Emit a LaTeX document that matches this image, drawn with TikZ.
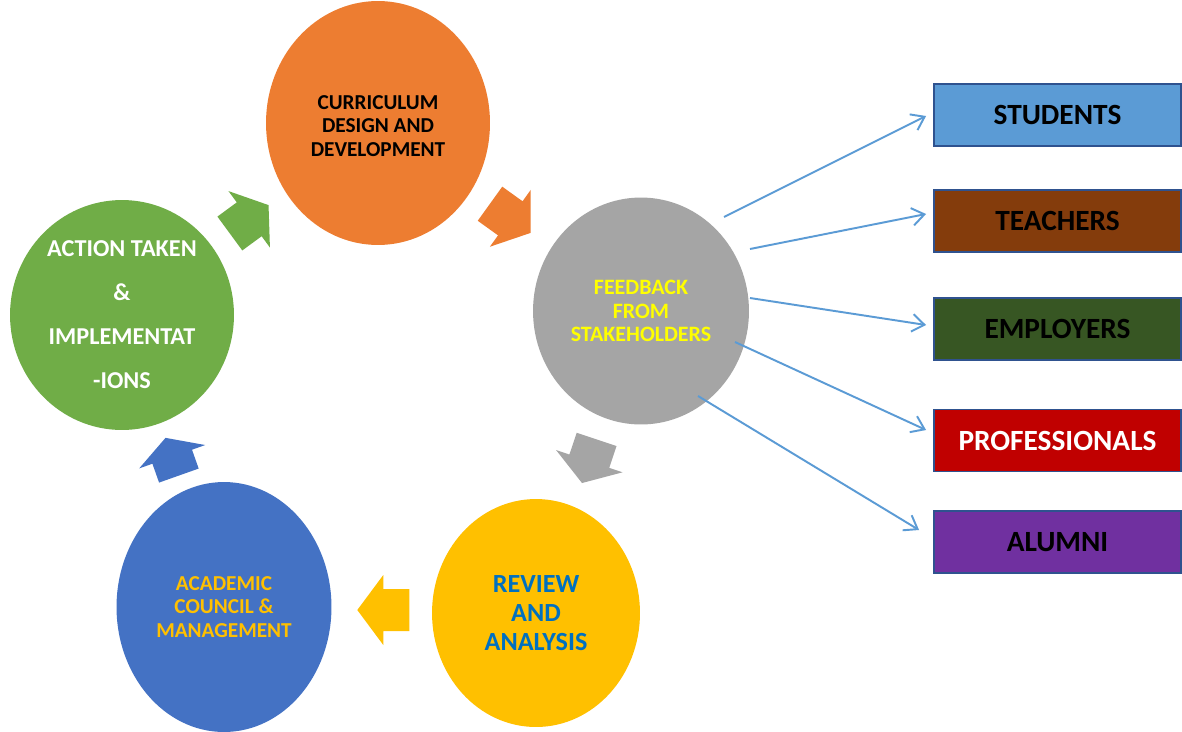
\documentclass[tikz,border=0pt]{standalone}
\usepackage{fontspec}
\setmainfont{Carlito}
\usetikzlibrary{shapes.geometric,arrows.meta}
\definecolor{corange}{HTML}{ED7D31}
\definecolor{cgray}{HTML}{A5A5A5}
\definecolor{cyellow}{HTML}{FFC000}
\definecolor{cblue}{HTML}{4472C4}
\definecolor{cgreen}{HTML}{70AD47}
\definecolor{cline}{HTML}{5B9BD5}
\definecolor{cborder}{HTML}{2F528F}
\definecolor{cstud}{HTML}{5B9BD5}
\definecolor{cteach}{HTML}{843C0C}
\definecolor{cemp}{HTML}{375623}
\definecolor{cprof}{HTML}{C00000}
\definecolor{calum}{HTML}{7030A0}
\definecolor{ctextblue}{HTML}{0070C0}
\definecolor{ctextyellow}{HTML}{FFFF00}
\begin{document}
\begin{tikzpicture}[x=0.02cm,y=0.02cm,
  circ/.style={ellipse, inner sep=0pt, align=center},
  smalltext/.style={font=\fontsize{12.1}{13.4}\selectfont\bfseries},
  stakebox/.style={draw=cborder, line width=1.1pt, minimum width=4.94cm, minimum height=1.24cm,
     inner sep=0pt, font=\fontsize{16.7}{19}\selectfont\bfseries},
  feed/.style={draw=cline, line width=1.1pt, -{Straight Barb[length=7pt,width=10pt]}},
  pics/blockarrow/.style={code={\fill[pic actions] (-#1,-21) -- (0,-21) -- (0,-35) -- (#1,0) -- (0,35) -- (0,21) -- (-#1,21) -- cycle;}}
]
\clip (0,0) rectangle (1182,-731);
\fill[white] (0,0) rectangle (1182,-731);

% cycle circles
\node[circ, fill=corange, minimum width=4.48cm, minimum height=4.88cm] (design) at (378,-123) {};
\node[smalltext, align=center, inner sep=0pt, text=black] (designtext) at (378,-126)
  {CURRICULUM\\DESIGN AND\\DEVELOPMENT};
\node[circ, fill=cgray, minimum width=4.32cm, minimum height=4.54cm,
  font=\fontsize{12.5}{13.4}\selectfont\bfseries, text=ctextyellow]
  (feedback) at (641,-311) {FEEDBACK\\FROM\\STAKEHOLDERS};
\node[circ, fill=cyellow, minimum width=4.16cm, minimum height=4.56cm,
  font=\fontsize{14.9}{16.4}\selectfont\bfseries, text=ctextblue]
  (review) at (536,-613) {REVIEW\\AND\\ANALYSIS};
\node[circ, fill=cblue, minimum width=4.30cm, minimum height=5.00cm, smalltext, text=cyellow]
  (council) at (224,-607) {ACADEMIC\\COUNCIL \&\\MANAGEMENT};
\node[circ, fill=cgreen, minimum width=4.48cm, minimum height=4.60cm,
  font=\fontsize{13.8}{25}\selectfont\bfseries, text=white]
  (action) at (122,-315) {ACTION TAKEN\\\&\\IMPLEMENTAT\\-IONS};

% block arrows between circles
\pic[fill=cgreen, rotate=36.3] at (249.2,-219.3) {blockarrow=24};
\pic[fill=corange, rotate=-35.7] at (510.3,-218.3) {blockarrow=25};
\pic[fill=cgray, rotate=-108.5] at (589.3,-461.2) {blockarrow=23};
\pic[fill=cyellow, rotate=180] at (383.3,-610) {blockarrow=26};
\pic[fill=cblue, rotate=109.5] at (172.2,-456.7) {blockarrow=20};

% stakeholder boxes
\node[stakebox, fill=cstud, text=black] (students) at (1057.5,-115) {STUDENTS};
\node[stakebox, fill=cteach, text=black] (teachers) at (1057.5,-221) {TEACHERS};
\node[stakebox, fill=cemp, text=black] (employers) at (1057.5,-329) {EMPLOYERS};
\node[stakebox, fill=cprof, text=white] (professionals) at (1057.5,-440.5) {PROFESSIONALS};
\node[stakebox, fill=calum, text=black] (alumni) at (1057.5,-542) {ALUMNI};

% connectors from feedback
\coordinate (f1) at (724,-217);
\coordinate (f2) at (750,-249);
\coordinate (f3) at (750,-298);
\coordinate (f4) at (735,-342);
\coordinate (f5) at (698,-396);
\draw[feed] (f1) -- ([shift={(-7,-1)}]students.west);
\draw[feed] (f2) -- ([shift={(-7,7)}]teachers.west);
\draw[feed] (f3) -- ([shift={(-7,4)}]employers.west);
\draw[feed] (f4) -- ([shift={(-7,10.5)}]professionals.west);
\draw[feed] (f5) -- ([shift={(-14,12)}]alumni.west);
\end{tikzpicture}
\end{document}
